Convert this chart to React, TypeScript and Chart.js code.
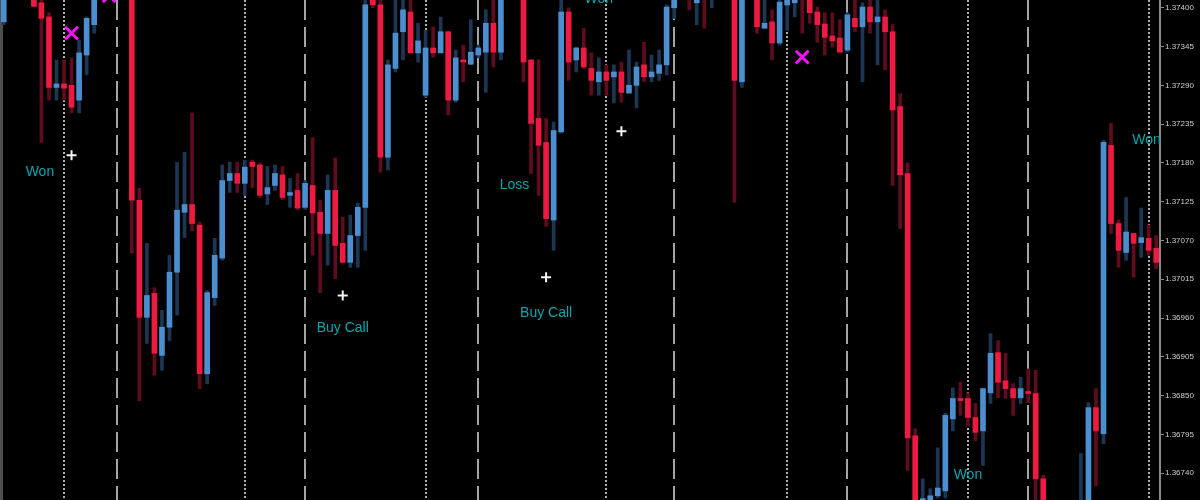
import React, { useEffect, useRef } from "react";
import { Chart, registerables } from "chart.js";

Chart.register(...registerables);

// Candle data (one bar per slot, oldest first)
const opens = [
  1.37380, 1.37418, 1.37468, 1.37454, 1.37418, 1.37407, 1.37387, 1.37287, 1.37292, 1.37290,
  1.37269, 1.37333, 1.37376, 1.37418, 1.37454, 1.37482, 1.37454, 1.37425, 1.37127, 1.36961,
  1.36995, 1.36907, 1.36947, 1.37025, 1.37110, 1.37121, 1.37092, 1.36881, 1.36989, 1.37045,
  1.37155, 1.37165, 1.37151, 1.37181, 1.37177, 1.37136, 1.37148, 1.37163, 1.37134, 1.37141,
  1.37117, 1.37148, 1.37110, 1.37080, 1.37141, 1.37066, 1.37039, 1.37077, 1.37117, 1.37415,
  1.37404, 1.37188, 1.37314, 1.37366, 1.37394, 1.37336, 1.37276, 1.37343, 1.37336, 1.37366,
  1.37269, 1.37326, 1.37320, 1.37333, 1.37337, 1.37378, 1.37337, 1.37418, 1.37454, 1.37432,
  1.37326, 1.37243, 1.37209, 1.37099, 1.37224, 1.37394, 1.37326, 1.37343, 1.37314, 1.37295,
  1.37309, 1.37302, 1.37309, 1.37279, 1.37290, 1.37319, 1.37302, 1.37307, 1.37319, 1.37400,
  1.37418, 1.37447, 1.37407, 1.37439, 1.37415, 1.37439, 1.37468, 1.37439, 1.37295, 1.37418,
  1.37439, 1.37371, 1.37380, 1.37350, 1.37404, 1.37407, 1.37432, 1.37418, 1.37394, 1.37377,
  1.37360, 1.37357, 1.37340, 1.37385, 1.37373, 1.37401, 1.37380, 1.37387, 1.37366, 1.37260,
  1.37165, 1.36793, 1.36684, 1.36694, 1.36708, 1.36715, 1.36817, 1.36846, 1.36846, 1.36819,
  1.36800, 1.36854, 1.36911, 1.36871, 1.36860, 1.36847, 1.36854, 1.36853, 1.36732, 1.36658,
  1.36615, 1.36658, 1.36637, 1.36658, 1.36694, 1.36833, 1.36796, 1.37205, 1.37094, 1.37053,
  1.37080, 1.37067, 1.37073, 1.37059,
];

const highs = [
  1.37428, 1.37482, 1.37489, 1.37468, 1.37428, 1.37414, 1.37393, 1.37326, 1.37326, 1.37329,
  1.37354, 1.37387, 1.37425, 1.37468, 1.37496, 1.37496, 1.37468, 1.37432, 1.37144, 1.37066,
  1.37003, 1.36971, 1.37049, 1.37181, 1.37195, 1.37251, 1.37096, 1.36999, 1.37073, 1.37177,
  1.37181, 1.37181, 1.37184, 1.37184, 1.37180, 1.37175, 1.37177, 1.37175, 1.37158, 1.37165,
  1.37155, 1.37216, 1.37127, 1.37163, 1.37187, 1.37103, 1.37106, 1.37123, 1.37418, 1.37425,
  1.37414, 1.37326, 1.37418, 1.37418, 1.37418, 1.37378, 1.37368, 1.37373, 1.37387, 1.37366,
  1.37340, 1.37347, 1.37383, 1.37347, 1.37397, 1.37415, 1.37425, 1.37468, 1.37475, 1.37439,
  1.37326, 1.37326, 1.37243, 1.37238, 1.37415, 1.37400, 1.37344, 1.37371, 1.37336, 1.37329,
  1.37319, 1.37319, 1.37323, 1.37340, 1.37323, 1.37351, 1.37333, 1.37340, 1.37404, 1.37425,
  1.37461, 1.37461, 1.37439, 1.37454, 1.37454, 1.37482, 1.37489, 1.37447, 1.37432, 1.37461,
  1.37447, 1.37418, 1.37397, 1.37415, 1.37432, 1.37432, 1.37439, 1.37425, 1.37401, 1.37393,
  1.37393, 1.37383, 1.37393, 1.37415, 1.37407, 1.37415, 1.37415, 1.37397, 1.37376, 1.37278,
  1.37180, 1.36803, 1.36732, 1.36718, 1.36776, 1.36825, 1.36861, 1.36869, 1.36854, 1.36839,
  1.36860, 1.36938, 1.36928, 1.36910, 1.36867, 1.36876, 1.36888, 1.36886, 1.36737, 1.36673,
  1.36673, 1.36680, 1.36687, 1.36768, 1.36840, 1.36860, 1.37212, 1.37236, 1.37099, 1.37131,
  1.37080, 1.37116, 1.37092, 1.37077,
];

const lows = [
  1.37376, 1.37415, 1.37439, 1.37418, 1.37401, 1.37209, 1.37269, 1.37269, 1.37269, 1.37251,
  1.37251, 1.37305, 1.37364, 1.37415, 1.37447, 1.37439, 1.37418, 1.37052, 1.36843, 1.36924,
  1.36879, 1.36886, 1.36928, 1.36964, 1.37074, 1.37084, 1.36860, 1.36867, 1.36978, 1.37042,
  1.37138, 1.37138, 1.37134, 1.37145, 1.37131, 1.37121, 1.37141, 1.37128, 1.37117, 1.37114,
  1.37114, 1.37049, 1.36996, 1.37035, 1.37016, 1.37038, 1.37032, 1.37032, 1.37056, 1.37400,
  1.37167, 1.37170, 1.37309, 1.37326, 1.37336, 1.37323, 1.37273, 1.37330, 1.37336, 1.37248,
  1.37266, 1.37295, 1.37319, 1.37329, 1.37280, 1.37316, 1.37326, 1.37414, 1.37418, 1.37295,
  1.37165, 1.37134, 1.37090, 1.37056, 1.37222, 1.37297, 1.37309, 1.37314, 1.37276, 1.37276,
  1.37276, 1.37265, 1.37266, 1.37279, 1.37258, 1.37295, 1.37295, 1.37297, 1.37305, 1.37385,
  1.37414, 1.37397, 1.37376, 1.37371, 1.37400, 1.37432, 1.37425, 1.37124, 1.37287, 1.37414,
  1.37364, 1.37371, 1.37326, 1.37347, 1.37368, 1.37387, 1.37364, 1.37378, 1.37351, 1.37333,
  1.37344, 1.37337, 1.37337, 1.37366, 1.37295, 1.37364, 1.37319, 1.37312, 1.37148, 1.37087,
  1.36744, 1.36666, 1.36673, 1.36687, 1.36705, 1.36705, 1.36800, 1.36822, 1.36807, 1.36786,
  1.36751, 1.36839, 1.36847, 1.36846, 1.36822, 1.36839, 1.36840, 1.36694, 1.36644, 1.36601,
  1.36601, 1.36623, 1.36630, 1.36644, 1.36687, 1.36722, 1.36782, 1.37080, 1.37032, 1.37042,
  1.37018, 1.37046, 1.37049, 1.37030,
];

const closes = [
  1.37422, 1.37468, 1.37454, 1.37425, 1.37402, 1.37385, 1.37287, 1.37292, 1.37286, 1.37259,
  1.37336, 1.37385, 1.37418, 1.37454, 1.37482, 1.37454, 1.37425, 1.37127, 1.36961, 1.36992,
  1.36910, 1.36947, 1.37025, 1.37113, 1.37121, 1.37094, 1.36881, 1.36996, 1.37049, 1.37155,
  1.37165, 1.37151, 1.37174, 1.37175, 1.37134, 1.37145, 1.37165, 1.37131, 1.37138, 1.37116,
  1.37151, 1.37109, 1.37080, 1.37141, 1.37063, 1.37039, 1.37077, 1.37117, 1.37404, 1.37404,
  1.37188, 1.37319, 1.37364, 1.37397, 1.37336, 1.37353, 1.37343, 1.37336, 1.37366, 1.37269,
  1.37329, 1.37323, 1.37337, 1.37343, 1.37378, 1.37337, 1.37418, 1.37454, 1.37432, 1.37323,
  1.37236, 1.37205, 1.37101, 1.37226, 1.37394, 1.37323, 1.37343, 1.37316, 1.37297, 1.37309,
  1.37297, 1.37309, 1.37280, 1.37290, 1.37316, 1.37302, 1.37309, 1.37319, 1.37401, 1.37418,
  1.37447, 1.37422, 1.37425, 1.37415, 1.37439, 1.37468, 1.37439, 1.37297, 1.37422, 1.37447,
  1.37373, 1.37378, 1.37350, 1.37408, 1.37422, 1.37425, 1.37415, 1.37393, 1.37376, 1.37358,
  1.37353, 1.37337, 1.37390, 1.37373, 1.37401, 1.37380, 1.37387, 1.37366, 1.37255, 1.37163,
  1.36790, 1.36680, 1.36704, 1.36708, 1.36719, 1.36822, 1.36846, 1.36843, 1.36819, 1.36798,
  1.36860, 1.36910, 1.36869, 1.36860, 1.36847, 1.36860, 1.36853, 1.36732, 1.36658, 1.36615,
  1.36658, 1.36637, 1.36673, 1.36694, 1.36833, 1.36800, 1.37209, 1.37094, 1.37056, 1.37082,
  1.37066, 1.37074, 1.37056, 1.37039,
];

// Right price axis labels
const priceTicks = [
  1.374, 1.37345, 1.3729, 1.37235, 1.3718, 1.37125, 1.3707,
  1.37015, 1.3696, 1.36905, 1.3685, 1.36795, 1.3674,
];
const priceMin = 1.36702;
const priceMax = 1.37411;

// Vertical separators (bar indices)
const dottedLineBars = [8, 32, 56, 80, 104, 128, 152];
const dashedLineBars = [15, 40, 63, 89, 112, 136];

// Markers
const exitMarkBars = [9, 14, 106];
const exitMarkPrices = [1.37364, 1.37417, 1.3733];
const arrowMarkBars = [9, 45, 72, 82];
const arrowMarkPrices = [1.37191, 1.36992, 1.37018, 1.37225];

// Text notes
const noteTexts = ["Won", "Buy Call", "Loss", "Buy Call", "Won", "Won", "Won"];
const noteBars = [4.8, 45, 67.8, 72, 79, 128, 151.7];
const notePrices = [1.37167, 1.36945, 1.37148, 1.36967, 1.37412, 1.36737, 1.37212];

const BULL_BODY = "#4b8fd0";
const BULL_WICK = "#1c3653";
const BEAR_BODY = "#ee1a42";
const BEAR_WICK = "#5e0c1e";

const overlayPlugin = {
  id: "overlay",
  beforeDraw(chart: any) {
    const { ctx, width, height } = chart;
    ctx.save();
    ctx.fillStyle = "#000";
    ctx.fillRect(0, 0, width, height);
    ctx.restore();
  },
  beforeDatasetsDraw(chart: any) {
    const { ctx, chartArea, scales } = chart;
    const xs = scales.x;
    ctx.save();
    ctx.fillStyle = "#4d4d4d";
    ctx.fillRect(chartArea.left, chartArea.top, 3, chartArea.bottom - chartArea.top);
    ctx.lineWidth = 2;
    ctx.strokeStyle = "#b0b0b0";
    ctx.setLineDash([2, 2]);
    dottedLineBars.forEach((i) => {
      const px = Math.round(xs.getPixelForValue(i));
      ctx.beginPath();
      ctx.moveTo(px, chartArea.top);
      ctx.lineTo(px, chartArea.bottom);
      ctx.stroke();
    });
    ctx.strokeStyle = "#a4a4a4";
    ctx.setLineDash([20, 7]);
    dashedLineBars.forEach((i) => {
      const px = Math.round(xs.getPixelForValue(i));
      ctx.beginPath();
      ctx.moveTo(px, chartArea.top);
      ctx.lineTo(px, chartArea.bottom);
      ctx.stroke();
    });
    ctx.restore();
  },
  afterDatasetsDraw(chart: any) {
    const { ctx, chartArea, scales } = chart;
    ctx.save();
    ctx.beginPath();
    ctx.rect(chartArea.left, chartArea.top, chartArea.right - chartArea.left, chartArea.bottom - chartArea.top);
    ctx.clip();
    ctx.font = '14px "Liberation Sans", Arial, sans-serif';
    ctx.fillStyle = "#0aa6ad";
    ctx.textAlign = "center";
    ctx.textBaseline = "middle";
    noteTexts.forEach((t, i) => {
      const px = scales.x.getPixelForValue(noteBars[i]);
      const py = scales.y.getPixelForValue(notePrices[i]);
      ctx.fillText(t, px, py);
    });
    ctx.restore();
  },
};

export default function App() {
  const ref = useRef<HTMLCanvasElement | null>(null);

  useEffect(() => {
    document.body.style.margin = "0";
    document.body.style.background = "#000";
    const labels = opens.map((_, i) => String(i));
    const bull = opens.map((o, i) => closes[i] >= o);
    const chart = new Chart(ref.current as HTMLCanvasElement, {
      type: "bar",
      data: {
        labels,
        datasets: [
          {
            type: "bar",
            data: lows.map((l, i) => [l, highs[i]]) as any,
            backgroundColor: bull.map((b) => (b ? BULL_WICK : BEAR_WICK)),
            barThickness: 3,
            grouped: false,
            order: 3,
          } as any,
          {
            type: "bar",
            data: opens.map((o, i) => [o, closes[i]]) as any,
            backgroundColor: bull.map((b) => (b ? BULL_BODY : BEAR_BODY)),
            barThickness: 5,
            grouped: false,
            minBarLength: 2,
            order: 2,
          } as any,
          {
            type: "line",
            data: exitMarkBars.map((b, i) => ({ x: String(b), y: exitMarkPrices[i] })) as any,
            showLine: false,
            pointStyle: "crossRot",
            pointRadius: 9,
            pointBorderWidth: 3,
            pointBorderColor: "#ff10ff",
            pointBackgroundColor: "#ff10ff",
            order: 1,
          } as any,
          {
            type: "line",
            data: arrowMarkBars.map((b, i) => ({ x: String(b), y: arrowMarkPrices[i] })) as any,
            showLine: false,
            pointStyle: "cross",
            pointRadius: 5,
            pointBorderWidth: 2,
            pointBorderColor: "#f4f4f4",
            pointBackgroundColor: "#f4f4f4",
            order: 1,
          } as any,
        ],
      },
      options: {
        animation: false,
        responsive: false,
        maintainAspectRatio: false,
        layout: { padding: 0, autoPadding: false },
        plugins: { legend: { display: false }, tooltip: { enabled: false } },
        scales: {
          x: {
            type: "category",
            display: false,
            offset: true,
            grid: { display: false },
          },
          y: {
            type: "linear",
            position: "right",
            min: priceMin,
            max: priceMax,
            afterBuildTicks: (s: any) => {
              s.ticks = priceTicks.map((v) => ({ value: v }));
            },
            afterFit: (s: any) => {
              s.width = 40;
              s.paddingTop = 0;
              s.paddingBottom = 0;
            },
            ticks: {
              autoSkip: false,
              color: "#cdcdcd",
              padding: 1,
              font: { size: 8, family: '"Liberation Sans", Arial, sans-serif' },
              callback: (v: any) => Number(v).toFixed(5),
            },
            grid: { drawOnChartArea: false, drawTicks: true, tickLength: 4, color: "#8a8a8a" },
            border: { display: true, color: "#8a8a8a", width: 2 },
          } as any,
        },
      } as any,
      plugins: [overlayPlugin],
    });
    return () => chart.destroy();
  }, []);

  return (
    <div style={{ width: 1200, height: 500, background: "#000" }}>
      <canvas ref={ref} width={1200} height={500} style={{ display: "block" }} />
    </div>
  );
}
